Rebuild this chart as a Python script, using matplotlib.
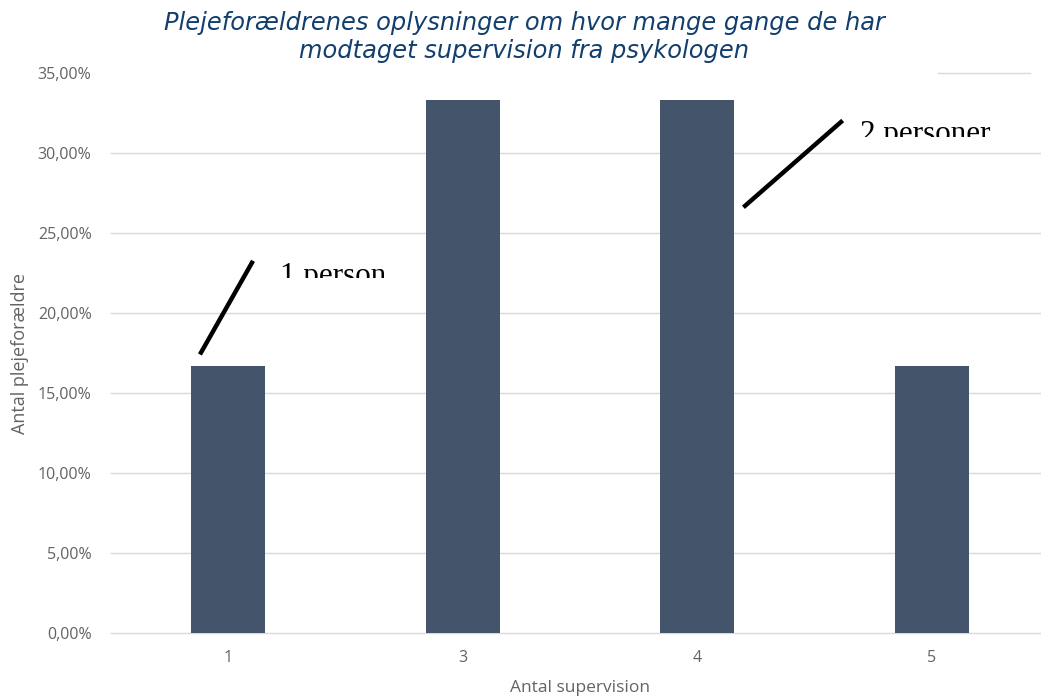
import matplotlib
matplotlib.use("Agg")
import matplotlib.pyplot as plt
from matplotlib.patches import Rectangle

# data
categories = ["1", "3", "4", "5"]
shares = [16.67, 33.33, 33.33, 16.67]   # percent of foster parents
yticks = [0, 5, 10, 15, 20, 25, 30, 35]

title = "Plejeforældrenes oplysninger om hvor mange gange de har\nmodtaget supervision fra psykologen"
xlabel = "Antal supervision"
ylabel = "Antal plejeforældre"

bar_color = "#44546A"
grid_color = "#D9D9D9"
tick_color = "#636363"

fig = plt.figure(figsize=(10.41, 6.97), dpi=100)
ax = fig.add_axes([111/1041, 64/697, 938/1041, 560/697])

x = list(range(len(categories)))
ax.bar(x, shares, width=0.315, color=bar_color, zorder=3)

ax.set_xlim(-0.5, len(categories) - 0.5)
ax.set_ylim(0, 35)

# gridlines (the top one is mostly hidden behind the title box)
for t in yticks[:-1]:
    ax.axhline(t, color=grid_color, lw=1, zorder=1, clip_on=False)
ax.axhline(35, xmin=(938-111)/938, xmax=(1030-111)/938, color=grid_color, lw=1, zorder=1, clip_on=False)

ax.set_yticks(yticks)
ax.set_yticklabels([f"{t:.2f}%".replace(".", ",") for t in yticks])
ax.set_xticks(x)
ax.set_xticklabels(categories)
ax.tick_params(length=0, colors=tick_color, labelsize=11.5, pad=14)
ax.tick_params(axis="x", pad=12)
for lab in ax.get_xticklabels() + ax.get_yticklabels():
    lab.set_family("Open Sans")
for s in ax.spines.values():
    s.set_visible(False)

ax.set_xlabel(xlabel, color=tick_color, fontsize=12.5, family="Open Sans", labelpad=10)
ax.set_ylabel(ylabel, color=tick_color, fontsize=13, family="Open Sans", labelpad=6)

fig.text(524/1041, 1 - 37/697, title, ha="center", va="center", fontsize=17.4,
         style="italic", color="#123F6E", family="DejaVu Sans", linespacing=1.2)

# annotation lines
ax.plot([-0.116, 0.101], [17.53, 23.14], color="black", lw=3.2, clip_on=False, zorder=5)
ax.plot([2.204, 2.613], [26.7, 31.94], color="black", lw=3.2, clip_on=False, zorder=5)

# annotation texts, cut off at the bottom like in the original
for px, py, cut, txt in [(280, 284, 278, "1 person"), (860, 142, 137, "2 personer")]:
    t = fig.text(px/1041, 1 - py/697, txt, ha="left", va="baseline",
                 fontsize=22.4, family="Liberation Serif", color="black")
    clip = Rectangle((px/1041 - 0.01, 1 - cut/697), 0.3, 0.1, transform=fig.transFigure)
    t.set_clip_path(clip)

fig.savefig("out.png", dpi=100)
